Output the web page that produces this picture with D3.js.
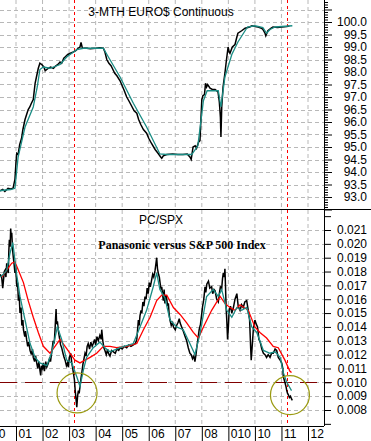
<!DOCTYPE html>
<html>
<head>
<meta charset="utf-8">
<script src="https://cdn.jsdelivr.net/npm/d3@7"></script>
<style>
  body { margin: 0; background: #fff; }
  svg { display: block; font-family: Arial, "Liberation Sans", sans-serif; }
</style>
</head>
<body>
<script>
// ---- data (decimal year, value) ----
var euroDaily = [
  [2000.40, 93.25], [2000.50, 93.30], [2000.58, 93.22], [2000.70, 93.35], [2000.80, 93.32],
  [2000.89, 93.35], [2000.96, 93.70], [2001.00, 94.40], [2001.03, 94.75], [2001.08, 94.70],
  [2001.14, 95.10], [2001.21, 95.35], [2001.26, 95.70], [2001.30, 95.90], [2001.34, 96.10],
  [2001.40, 96.30], [2001.46, 96.50], [2001.52, 96.60], [2001.58, 96.75], [2001.65, 96.90],
  [2001.72, 97.55], [2001.78, 97.85], [2001.84, 98.15], [2001.90, 98.35], [2001.97, 98.30],
  [2002.05, 98.20], [2002.10, 98.05], [2002.16, 98.10], [2002.22, 98.15], [2002.30, 98.20],
  [2002.41, 98.15], [2002.50, 98.25], [2002.58, 98.30], [2002.66, 98.40], [2002.72, 98.35],
  [2002.80, 98.55], [2002.85, 98.60], [2002.95, 98.70], [2003.05, 98.75], [2003.16, 98.80],
  [2003.25, 98.85], [2003.34, 98.95], [2003.41, 99.00], [2003.45, 99.18], [2003.50, 98.95],
  [2003.60, 98.95], [2003.66, 98.95], [2003.80, 98.93], [2004.00, 98.95], [2004.15, 98.97],
  [2004.29, 98.95], [2004.35, 98.80], [2004.42, 98.50], [2004.50, 98.35], [2004.58, 98.25],
  [2004.65, 98.10], [2004.72, 97.95], [2004.80, 97.85], [2004.92, 97.65], [2005.00, 97.45],
  [2005.08, 97.25], [2005.17, 97.00], [2005.25, 96.85], [2005.35, 96.65], [2005.45, 96.45],
  [2005.55, 96.35], [2005.62, 96.10], [2005.70, 95.90], [2005.80, 95.70], [2005.92, 95.55],
  [2006.00, 95.35], [2006.10, 95.15], [2006.24, 94.90], [2006.35, 94.75], [2006.45, 94.60],
  [2006.49, 94.55], [2006.55, 94.65], [2006.68, 94.70], [2006.90, 94.72], [2007.10, 94.70],
  [2007.29, 94.70], [2007.45, 94.72], [2007.55, 94.60], [2007.60, 94.50], [2007.67, 95.00],
  [2007.75, 95.05], [2007.80, 94.95], [2007.88, 95.20], [2007.93, 95.25], [2008.00, 96.90],
  [2008.04, 97.05], [2008.10, 97.10], [2008.14, 97.55], [2008.18, 97.40], [2008.22, 97.50],
  [2008.31, 97.35], [2008.40, 97.30], [2008.50, 97.30], [2008.61, 97.20], [2008.66, 96.80],
  [2008.70, 96.20], [2008.72, 95.40], [2008.75, 96.60], [2008.80, 97.40], [2008.87, 97.95],
  [2008.93, 98.50], [2008.99, 99.00], [2009.03, 98.80], [2009.06, 98.75], [2009.15, 99.00],
  [2009.25, 99.10], [2009.32, 99.40], [2009.36, 99.55], [2009.50, 99.65], [2009.63, 99.75],
  [2009.80, 99.80], [2009.89, 99.85], [2010.00, 99.82], [2010.12, 99.80], [2010.25, 99.75],
  [2010.30, 99.70], [2010.38, 99.55], [2010.41, 99.45], [2010.45, 99.55], [2010.49, 99.65],
  [2010.60, 99.75], [2010.68, 99.80], [2010.85, 99.78], [2011.02, 99.80], [2011.20, 99.82],
  [2011.30, 99.84]
];

var euroAvg = [
  [2000.40, 93.25], [2000.60, 93.28], [2000.80, 93.30], [2000.96, 93.35], [2001.08, 94.60],
  [2001.34, 95.80], [2001.65, 96.60], [2001.80, 97.40], [2001.90, 98.10], [2002.03, 98.20],
  [2002.28, 98.15], [2002.66, 98.30], [2002.91, 98.60], [2003.29, 98.90], [2003.54, 98.95],
  [2004.29, 98.95], [2004.48, 98.60], [2004.92, 97.80], [2005.42, 96.75], [2005.92, 95.80],
  [2006.42, 94.72], [2006.68, 94.70], [2007.30, 94.70], [2007.62, 94.70], [2007.85, 95.05],
  [2008.06, 96.85], [2008.20, 97.25], [2008.62, 97.25], [2008.72, 96.60], [2008.87, 97.80],
  [2009.13, 98.70], [2009.36, 99.20], [2009.72, 99.80], [2010.00, 99.85], [2010.30, 99.78],
  [2010.44, 99.55], [2010.57, 99.70], [2010.76, 99.80], [2011.41, 99.85]
];

var ratioDaily = [
  [2000.40, 0.0178], [2000.46, 0.0176], [2000.50, 0.0168], [2000.52, 0.0172], [2000.56, 0.0180],
  [2000.59, 0.0181], [2000.62, 0.0176], [2000.65, 0.0186], [2000.68, 0.0181], [2000.71, 0.0179],
  [2000.73, 0.0195], [2000.75, 0.0203], [2000.78, 0.0198], [2000.80, 0.0211], [2000.82, 0.0205],
  [2000.84, 0.0208], [2000.87, 0.0196], [2000.90, 0.0190], [2000.93, 0.0185], [2000.96, 0.0179],
  [2000.99, 0.0183], [2001.03, 0.0169], [2001.06, 0.0172], [2001.09, 0.0159], [2001.12, 0.0163],
  [2001.15, 0.0150], [2001.19, 0.0154], [2001.22, 0.0141], [2001.26, 0.0145], [2001.28, 0.0138],
  [2001.33, 0.0133], [2001.36, 0.0137], [2001.40, 0.0131], [2001.44, 0.0126], [2001.48, 0.0129],
  [2001.53, 0.0123], [2001.58, 0.0120], [2001.62, 0.0124], [2001.65, 0.0118], [2001.70, 0.0115],
  [2001.74, 0.0119], [2001.78, 0.0114], [2001.82, 0.0110], [2001.86, 0.0115], [2001.90, 0.0109],
  [2001.93, 0.0105], [2001.96, 0.0112], [2002.00, 0.0110], [2002.03, 0.0114], [2002.07, 0.0108],
  [2002.12, 0.0115], [2002.16, 0.0111], [2002.22, 0.0114], [2002.26, 0.0117], [2002.30, 0.0115],
  [2002.34, 0.0121], [2002.40, 0.0130], [2002.44, 0.0128], [2002.47, 0.0138], [2002.51, 0.0153],
  [2002.53, 0.0142], [2002.56, 0.0144], [2002.59, 0.0138], [2002.63, 0.0133], [2002.68, 0.0127],
  [2002.72, 0.0125], [2002.77, 0.0121], [2002.81, 0.0118], [2002.85, 0.0116], [2002.90, 0.0112],
  [2002.94, 0.0114], [2002.97, 0.0111], [2003.01, 0.0118], [2003.06, 0.0121], [2003.10, 0.0114],
  [2003.13, 0.0111], [2003.16, 0.0107], [2003.20, 0.0102], [2003.23, 0.0094], [2003.26, 0.0088],
  [2003.29, 0.0082], [2003.32, 0.0090], [2003.35, 0.0094], [2003.38, 0.0092], [2003.41, 0.0097],
  [2003.45, 0.0103], [2003.48, 0.0107], [2003.52, 0.0113], [2003.56, 0.0117], [2003.60, 0.0121],
  [2003.64, 0.0119], [2003.68, 0.0126], [2003.72, 0.0128], [2003.77, 0.0124], [2003.82, 0.0129],
  [2003.87, 0.0126], [2003.91, 0.0128], [2003.96, 0.0131], [2004.00, 0.0127], [2004.05, 0.0133],
  [2004.10, 0.0130], [2004.16, 0.0134], [2004.21, 0.0131], [2004.23, 0.0138], [2004.27, 0.0130],
  [2004.31, 0.0125], [2004.35, 0.0123], [2004.40, 0.0120], [2004.45, 0.0124], [2004.48, 0.0121],
  [2004.54, 0.0119], [2004.60, 0.0123], [2004.67, 0.0122], [2004.74, 0.0121], [2004.80, 0.0124],
  [2004.87, 0.0123], [2004.92, 0.0125], [2005.00, 0.0124], [2005.08, 0.0126], [2005.17, 0.0125],
  [2005.25, 0.0127], [2005.33, 0.0126], [2005.42, 0.0127], [2005.50, 0.0128], [2005.55, 0.0131],
  [2005.58, 0.0138], [2005.61, 0.0145], [2005.64, 0.0141], [2005.67, 0.0148], [2005.71, 0.0152],
  [2005.74, 0.0150], [2005.78, 0.0158], [2005.82, 0.0155], [2005.86, 0.0162], [2005.90, 0.0160],
  [2005.94, 0.0168], [2005.98, 0.0164], [2006.02, 0.0172], [2006.06, 0.0169], [2006.11, 0.0174],
  [2006.15, 0.0178], [2006.19, 0.0176], [2006.24, 0.0181], [2006.28, 0.0187], [2006.30, 0.0190],
  [2006.33, 0.0182], [2006.37, 0.0178], [2006.40, 0.0176], [2006.44, 0.0170], [2006.47, 0.0167],
  [2006.49, 0.0169], [2006.55, 0.0159], [2006.58, 0.0167], [2006.61, 0.0157], [2006.65, 0.0163],
  [2006.68, 0.0160], [2006.71, 0.0155], [2006.74, 0.0157], [2006.77, 0.0149], [2006.80, 0.0145],
  [2006.85, 0.0141], [2006.90, 0.0143], [2006.93, 0.0140], [2007.00, 0.0138], [2007.05, 0.0141],
  [2007.10, 0.0143], [2007.15, 0.0146], [2007.18, 0.0143], [2007.24, 0.0140], [2007.30, 0.0137],
  [2007.37, 0.0133], [2007.43, 0.0130], [2007.49, 0.0125], [2007.55, 0.0121], [2007.60, 0.0120],
  [2007.65, 0.0117], [2007.70, 0.0119], [2007.74, 0.0115], [2007.78, 0.0120], [2007.81, 0.0125],
  [2007.86, 0.0132], [2007.90, 0.0138], [2007.95, 0.0142], [2008.00, 0.0150], [2008.03, 0.0155],
  [2008.06, 0.0158], [2008.09, 0.0163], [2008.12, 0.0169], [2008.15, 0.0165], [2008.19, 0.0171],
  [2008.25, 0.0173], [2008.30, 0.0168], [2008.37, 0.0169], [2008.41, 0.0164], [2008.46, 0.0167],
  [2008.50, 0.0166], [2008.56, 0.0160], [2008.62, 0.0158], [2008.66, 0.0164], [2008.70, 0.0169],
  [2008.75, 0.0168], [2008.78, 0.0175], [2008.81, 0.0179], [2008.85, 0.0176], [2008.87, 0.0182],
  [2008.89, 0.0171], [2008.90, 0.0164], [2008.92, 0.0152], [2008.94, 0.0145], [2008.97, 0.0131],
  [2009.00, 0.0140], [2009.03, 0.0152], [2009.08, 0.0155], [2009.13, 0.0150], [2009.19, 0.0154],
  [2009.25, 0.0160], [2009.32, 0.0164], [2009.37, 0.0155], [2009.44, 0.0152], [2009.50, 0.0156],
  [2009.56, 0.0154], [2009.62, 0.0158], [2009.69, 0.0159], [2009.75, 0.0152], [2009.80, 0.0145],
  [2009.84, 0.0125], [2009.86, 0.0116], [2009.88, 0.0121], [2009.94, 0.0138], [2010.00, 0.0145],
  [2010.05, 0.0142], [2010.10, 0.0140], [2010.15, 0.0131], [2010.20, 0.0129], [2010.26, 0.0124],
  [2010.32, 0.0121], [2010.38, 0.0120], [2010.44, 0.0118], [2010.50, 0.0120], [2010.57, 0.0118],
  [2010.63, 0.0121], [2010.69, 0.0121], [2010.76, 0.0124], [2010.82, 0.0123], [2010.88, 0.0118],
  [2010.95, 0.0116], [2011.01, 0.0114], [2011.05, 0.0110], [2011.07, 0.0104], [2011.10, 0.0102],
  [2011.13, 0.0100], [2011.17, 0.0097], [2011.20, 0.0094], [2011.23, 0.0092], [2011.26, 0.0091],
  [2011.30, 0.0089], [2011.34, 0.0090], [2011.38, 0.0088], [2011.41, 0.0087]
];

var ratioShortAvg = [
  [2000.40, 0.0176], [2000.52, 0.0178], [2000.65, 0.0181], [2000.77, 0.0193], [2000.88, 0.0201],
  [2000.96, 0.0188], [2001.00, 0.0181], [2001.15, 0.0162], [2001.34, 0.0145], [2001.53, 0.0128],
  [2001.72, 0.0118], [2001.90, 0.0114], [2002.16, 0.0112], [2002.34, 0.0121], [2002.56, 0.0140],
  [2002.72, 0.0131], [2002.91, 0.0116], [2003.10, 0.0114], [2003.29, 0.0104], [2003.41, 0.0097],
  [2003.54, 0.0109], [2003.66, 0.0118], [2003.91, 0.0125], [2004.16, 0.0129], [2004.35, 0.0125],
  [2004.54, 0.0122], [2004.92, 0.0125], [2005.42, 0.0128], [2005.67, 0.0140], [2005.92, 0.0152],
  [2006.17, 0.0169], [2006.30, 0.0179], [2006.42, 0.0167], [2006.61, 0.0161], [2006.80, 0.0145],
  [2007.05, 0.0140], [2007.30, 0.0138], [2007.55, 0.0128], [2007.74, 0.0120], [2007.93, 0.0135],
  [2008.18, 0.0162], [2008.43, 0.0167], [2008.62, 0.0162], [2008.75, 0.0167], [2008.94, 0.0152],
  [2009.13, 0.0147], [2009.32, 0.0154], [2009.50, 0.0152], [2009.69, 0.0154], [2009.88, 0.0140],
  [2010.07, 0.0136], [2010.32, 0.0123], [2010.57, 0.0121], [2010.76, 0.0122], [2010.95, 0.0118],
  [2011.07, 0.0107], [2011.20, 0.0100], [2011.38, 0.0094]
];

var ratioLongAvg = [
  [2000.46, 0.0176], [2000.65, 0.0181], [2000.84, 0.0186], [2000.96, 0.0187], [2001.09, 0.0181],
  [2001.28, 0.0172], [2001.46, 0.0159], [2001.65, 0.0147], [2001.84, 0.0136], [2002.03, 0.0126],
  [2002.28, 0.0121], [2002.47, 0.0126], [2002.66, 0.0131], [2002.85, 0.0126], [2003.03, 0.0121],
  [2003.22, 0.0116], [2003.41, 0.0114], [2003.60, 0.0116], [2003.79, 0.0118], [2004.04, 0.0121],
  [2004.29, 0.0126], [2004.54, 0.0126], [2004.79, 0.0125], [2005.17, 0.0126], [2005.55, 0.0128],
  [2005.80, 0.0138], [2006.05, 0.0147], [2006.30, 0.0159], [2006.49, 0.0163], [2006.68, 0.0163],
  [2006.93, 0.0154], [2007.18, 0.0149], [2007.43, 0.0143], [2007.68, 0.0136], [2007.87, 0.0132],
  [2008.06, 0.0140], [2008.37, 0.0152], [2008.69, 0.0162], [2008.87, 0.0157], [2009.06, 0.0154],
  [2009.25, 0.0152], [2009.44, 0.0156], [2009.75, 0.0152], [2010.00, 0.0140], [2010.19, 0.0136],
  [2010.44, 0.0132], [2010.69, 0.0126], [2010.88, 0.0125], [2011.13, 0.0116], [2011.32, 0.0108],
  [2011.38, 0.0107]
];

// ticks and labels
var yearTicks = [2000, 2001, 2002, 2003, 2004, 2005, 2006, 2007, 2008, 2009, 2010, 2011, 2012];
var yearLabels = ["00", "01", "02", "03", "04", "05", "06", "07", "08", "010", "10", "11", "12"];
var euroTicks = [92.5, 93.0, 93.5, 94.0, 94.5, 95.0, 95.5, 96.0, 96.5, 97.0, 97.5, 98.0, 98.5, 99.0, 99.5, 100.0, 100.5];
var euroMinorTicks = [92.6, 92.7, 92.8, 92.9, 93.1, 93.2, 93.3, 93.4, 93.6, 93.7, 93.8, 93.9,
                      94.1, 94.2, 94.3, 94.4, 94.6, 94.7, 94.8, 94.9, 95.1, 95.2, 95.3, 95.4,
                      95.6, 95.7, 95.8, 95.9, 96.1, 96.2, 96.3, 96.4, 96.6, 96.7, 96.8, 96.9,
                      97.1, 97.2, 97.3, 97.4, 97.6, 97.7, 97.8, 97.9, 98.1, 98.2, 98.3, 98.4,
                      98.6, 98.7, 98.8, 98.9, 99.1, 99.2, 99.3, 99.4, 99.6, 99.7, 99.8, 99.9,
                      100.1, 100.2, 100.3, 100.4, 100.6, 100.7, 100.8];
var euroLabels = [93.0, 93.5, 94.0, 94.5, 95.0, 95.5, 96.0, 96.5, 97.0, 97.5, 98.0, 98.5, 99.0, 99.5, 100.0];
var ratioTicks = [0.007, 0.008, 0.009, 0.010, 0.011, 0.012, 0.013, 0.014, 0.015, 0.016, 0.017, 0.018, 0.019, 0.020, 0.021, 0.022];
var ratioLabels = [0.008, 0.009, 0.010, 0.011, 0.012, 0.013, 0.014, 0.015, 0.016, 0.017, 0.018, 0.019, 0.020, 0.021];

// annotations
var markYears = [2003.18, 2011.21];
var supportLevel = 0.010;
var circles = [{year: 2003.30, value: 0.00923, r: 20}, {year: 2011.32, value: 0.00908, r: 19.5}];

// ---- layout ----
var W = 371, H = 441;
var plotRight = 324, splitY = 209, plotBottom = 426;

var svg = d3.select("body").append("svg")
    .attr("width", W)
    .attr("height", H);

var x = d3.scaleLinear().domain([2001, 2012]).range([16, 308]);
var yTop = d3.scaleLinear().domain([93, 100]).range([197, 22]);
var yBot = d3.scaleLinear().domain([0.008, 0.021]).range([410, 230]);

var defs = svg.append("defs");
defs.append("clipPath").attr("id", "clipTop")
    .append("rect").attr("x", 0).attr("y", 0).attr("width", plotRight).attr("height", splitY);
defs.append("clipPath").attr("id", "clipBot")
    .append("rect").attr("x", 0).attr("y", splitY).attr("width", plotRight).attr("height", plotBottom - splitY);

var gridColor = "#b8b8b8";

// Grid - vertical
svg.append("g").selectAll("line")
    .data(yearTicks.slice(1))
    .enter().append("line")
    .attr("x1", function(d) { return x(d); })
    .attr("x2", function(d) { return x(d); })
    .attr("y1", 0).attr("y2", plotBottom)
    .attr("stroke", gridColor).attr("stroke-dasharray", "4,3");

// Grid - horizontal
svg.append("g").selectAll("line")
    .data(euroTicks.slice(1))
    .enter().append("line")
    .attr("x1", 0).attr("x2", plotRight)
    .attr("y1", function(d) { return Math.round(yTop(d)) + 0.5; })
    .attr("y2", function(d) { return Math.round(yTop(d)) + 0.5; })
    .attr("stroke", gridColor).attr("stroke-dasharray", "4,3");

svg.append("g").selectAll("line")
    .data(ratioLabels)
    .enter().append("line")
    .attr("x1", 0).attr("x2", plotRight)
    .attr("y1", function(d) { return Math.round(yBot(d)) + 0.5; })
    .attr("y2", function(d) { return Math.round(yBot(d)) + 0.5; })
    .attr("stroke", gridColor).attr("stroke-dasharray", "4,3");

// support level
svg.append("line")
    .attr("x1", 0).attr("x2", 332)
    .attr("y1", Math.round(yBot(supportLevel)) + 0.5)
    .attr("y2", Math.round(yBot(supportLevel)) + 0.5)
    .attr("stroke", "#800000").attr("stroke-width", 1.2)
    .attr("stroke-dasharray", "17,8");

// red marker verticals
svg.append("g").selectAll("line")
    .data(markYears)
    .enter().append("line")
    .attr("x1", function(d) { return Math.round(x(d)) + 0.5; })
    .attr("x2", function(d) { return Math.round(x(d)) + 0.5; })
    .attr("y1", 0).attr("y2", plotBottom)
    .attr("stroke", "#ff0000").attr("stroke-dasharray", "3,3");

// Lines
var lineTop = d3.line()
    .x(function(d) { return x(d[0]); })
    .y(function(d) { return yTop(d[1]); });
var lineBot = d3.line()
    .x(function(d) { return x(d[0]); })
    .y(function(d) { return yBot(d[1]); });

var gTop = svg.append("g").attr("clip-path", "url(#clipTop)");
gTop.append("path").datum(euroDaily)
    .attr("d", lineTop).attr("fill", "none")
    .attr("stroke", "#000").attr("stroke-width", 1.5);
gTop.append("path").datum(euroAvg)
    .attr("d", lineTop).attr("fill", "none")
    .attr("stroke", "#1a8c84").attr("stroke-width", 1.3);

var gBot = svg.append("g").attr("clip-path", "url(#clipBot)");
gBot.append("path").datum(ratioDaily)
    .attr("d", lineBot).attr("fill", "none")
    .attr("stroke", "#000").attr("stroke-width", 1.5);
gBot.append("path").datum(ratioLongAvg)
    .attr("d", lineBot).attr("fill", "none")
    .attr("stroke", "#ff0000").attr("stroke-width", 1.3);
gBot.append("path").datum(ratioShortAvg)
    .attr("d", lineBot).attr("fill", "none")
    .attr("stroke", "#1a8c84").attr("stroke-width", 1.3);

// circles
svg.append("g").selectAll("circle")
    .data(circles)
    .enter().append("circle")
    .attr("cx", function(d) { return x(d.year); })
    .attr("cy", function(d) { return yBot(d.value); })
    .attr("r", function(d) { return d.r; })
    .attr("fill", "none")
    .attr("stroke", "#9a9a10").attr("stroke-width", 1.2);

// Frame lines
svg.append("line")
    .attr("x1", 0).attr("x2", W).attr("y1", splitY + 0.5).attr("y2", splitY + 0.5)
    .attr("stroke", "#000");
svg.append("line")
    .attr("x1", 0).attr("x2", plotRight).attr("y1", plotBottom + 0.5).attr("y2", plotBottom + 0.5)
    .attr("stroke", "#000");

// Right axes
function styleAxis(g) {
    g.select(".domain").remove();
    g.selectAll(".tick line").attr("stroke", "#000");
    g.selectAll("text").attr("fill", "#000").style("font-size", "12px")
        .style("font-family", "Arial, 'Liberation Sans', sans-serif");
}

svg.append("g")
    .attr("transform", "translate(" + plotRight + ",0)")
    .call(d3.axisRight(yTop).tickValues(euroMinorTicks).tickSize(4).tickFormat(""))
    .call(styleAxis);

svg.append("g")
    .attr("transform", "translate(" + plotRight + ",0)")
    .call(d3.axisRight(yTop).tickValues(euroTicks).tickSize(8).tickFormat(""))
    .call(styleAxis);

svg.append("g")
    .attr("transform", "translate(" + plotRight + ",0)")
    .call(d3.axisRight(yTop).tickValues(euroLabels).tickSize(0).tickPadding(0)
        .tickFormat(d3.format(".1f")))
    .call(styleAxis)
    .selectAll("text").attr("x", 43).style("text-anchor", "end");

svg.append("g")
    .attr("transform", "translate(" + plotRight + ",0)")
    .call(d3.axisRight(yBot).tickValues(ratioTicks).tickSize(7).tickFormat(""))
    .call(styleAxis);

svg.append("g")
    .attr("transform", "translate(" + plotRight + ",0)")
    .call(d3.axisRight(yBot).tickValues(ratioLabels).tickSize(0).tickPadding(0)
        .tickFormat(d3.format(".3f")))
    .call(styleAxis)
    .selectAll("text").attr("x", 43).style("text-anchor", "end");

// axis spine
svg.append("line")
    .attr("x1", plotRight + 0.5).attr("x2", plotRight + 0.5)
    .attr("y1", 0).attr("y2", plotBottom)
    .attr("stroke", "#000");

// Bottom axis
var xAxisG = svg.append("g")
    .attr("transform", "translate(0," + plotBottom + ")")
    .call(d3.axisBottom(x).tickValues(yearTicks).tickSize(15)
        .tickFormat(function(d, i) { return yearLabels[i]; }));
xAxisG.select(".domain").remove();
xAxisG.selectAll(".tick line").attr("stroke", "#000");
xAxisG.selectAll("text")
    .attr("x", 2).attr("y", 3).attr("dy", "0.71em")
    .style("text-anchor", "start")
    .style("font-size", "12px")
    .attr("fill", "#000");

// Titles
svg.append("text")
    .attr("x", 161).attr("y", 16)
    .attr("text-anchor", "middle")
    .style("font-size", "12px")
    .text("3-MTH EURO$ Continuous");

svg.append("text")
    .attr("x", 161).attr("y", 224)
    .attr("text-anchor", "middle")
    .style("font-size", "12px")
    .text("PC/SPX");

svg.append("text")
    .attr("x", 182).attr("y", 249)
    .attr("text-anchor", "middle")
    .style("font-family", "'Liberation Serif', 'Times New Roman', serif")
    .style("font-weight", "bold")
    .style("font-size", "12px")
    .text("Panasonic versus S&P 500 Index");
</script>
</body>
</html>
